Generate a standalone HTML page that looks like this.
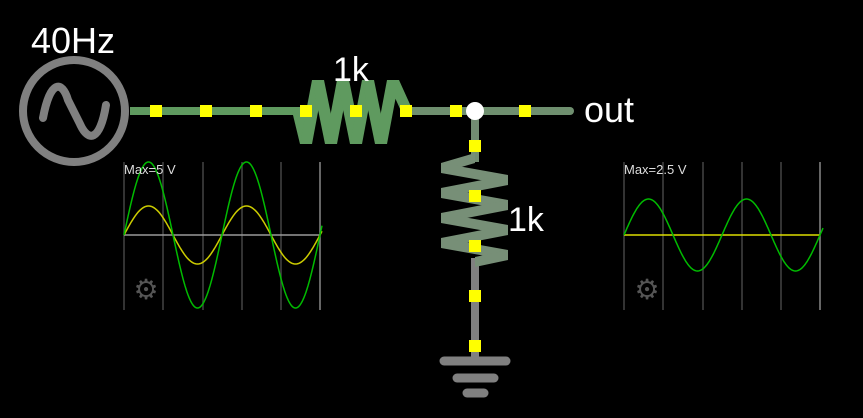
<!DOCTYPE html>
<html><head><meta charset="utf-8"><style>
html,body{margin:0;padding:0;background:#000;}
svg{display:block;font-family:"Liberation Sans",sans-serif;}
</style></head><body>
<svg id="s" width="863" height="418" viewBox="0 0 863 418" xmlns="http://www.w3.org/2000/svg">
<rect width="863" height="418" fill="#000"/>
<g stroke="#444" stroke-width="1.5">
<line x1="124" y1="162" x2="124" y2="310"/><line x1="163" y1="162" x2="163" y2="310"/><line x1="203" y1="162" x2="203" y2="310"/><line x1="242" y1="162" x2="242" y2="310"/><line x1="281" y1="162" x2="281" y2="310"/>
<line x1="624" y1="162" x2="624" y2="310"/><line x1="663" y1="162" x2="663" y2="310"/><line x1="703" y1="162" x2="703" y2="310"/><line x1="742" y1="162" x2="742" y2="310"/><line x1="781" y1="162" x2="781" y2="310"/>
</g>
<line x1="320" y1="162" x2="320" y2="310" stroke="#888" stroke-width="1.5"/>
<line x1="820" y1="162" x2="820" y2="310" stroke="#888" stroke-width="1.5"/>
<line x1="124" y1="235" x2="320" y2="235" stroke="#999" stroke-width="1.5"/>
<polyline id="y1" fill="none" stroke="#cccc00" stroke-width="1.5"/>
<polyline id="g1" fill="none" stroke="#00bb00" stroke-width="1.5"/>
<line x1="624" y1="235" x2="820" y2="235" stroke="#dddd00" stroke-width="1.5"/>
<polyline id="g2" fill="none" stroke="#00bb00" stroke-width="1.5"/>
<text x="124" y="174" font-size="13" fill="#ddd">Max=5 V</text>
<text x="624" y="174" font-size="13" fill="#ddd">Max=2.5 V</text>
<text x="146" y="299" font-size="28" fill="#555" text-anchor="middle">⚙</text>
<text x="647" y="299" font-size="28" fill="#555" text-anchor="middle">⚙</text>
<line x1="130" y1="111" x2="300" y2="111" stroke="#5f9a5f" stroke-width="8"/>
<line x1="405" y1="111" x2="570" y2="111" stroke="#6f8f6f" stroke-width="8" stroke-linecap="round"/>
<g id="rh" fill="#5f9a5f"></g>
<line x1="475" y1="111" x2="475" y2="162" stroke="#728c72" stroke-width="8"/>
<line x1="475" y1="258" x2="475" y2="358" stroke="#808080" stroke-width="8"/>
<g id="rv" fill="#778f77"></g>
<g stroke="#808080" stroke-linecap="round">
<line x1="444" y1="361" x2="506" y2="361" stroke-width="9"/>
<line x1="457" y1="378" x2="494" y2="378" stroke-width="9"/>
<line x1="467" y1="393" x2="484" y2="393" stroke-width="9"/>
</g>
<circle cx="74" cy="111" r="51" fill="none" stroke="#808080" stroke-width="8"/>
<path d="M43,118 C50,80 62,80 68,100 L80,124 C88,142 100,142 106,105" fill="none" stroke="#808080" stroke-width="8" stroke-linecap="round"/>
<circle cx="475" cy="111" r="9" fill="#fff"/>
<g fill="#ffff00">
<rect x="150" y="105" width="12" height="12"/><rect x="200" y="105" width="12" height="12"/><rect x="250" y="105" width="12" height="12"/><rect x="300" y="105" width="12" height="12"/><rect x="350" y="105" width="12" height="12"/><rect x="400" y="105" width="12" height="12"/><rect x="450" y="105" width="12" height="12"/><rect x="519" y="105" width="12" height="12"/>
<rect x="469" y="140" width="12" height="12"/><rect x="469" y="190" width="12" height="12"/><rect x="469" y="240" width="12" height="12"/><rect x="469" y="290" width="12" height="12"/><rect x="469" y="340" width="12" height="12"/>
</g>
<text x="31" y="53" font-size="36" fill="#fff">40Hz</text>
<text x="333" y="81" font-size="34" fill="#fff">1k</text>
<text x="508" y="231" font-size="34" fill="#fff">1k</text>
<text x="584" y="122" font-size="36" fill="#fff">out</text>
</svg>
<script>
var NS="http://www.w3.org/2000/svg";
function pts(x0,x1,cy,a,per){var p=[];for(var x=x0;x<=x1;x+=1){p.push(x+","+(cy-a*Math.sin(2*Math.PI*(x-x0)/per)).toFixed(1));}return p.join(" ");}
document.getElementById("g1").setAttribute("points",pts(124,322,235,73,98));
document.getElementById("y1").setAttribute("points",pts(124,322,235,29,98));
document.getElementById("g2").setAttribute("points",pts(624,823,235,36,98));
function strips(g,P,dx,dy){for(var i=0;i<P.length-1;i++){var a=P[i],b=P[i+1];var pl=document.createElementNS(NS,"polygon");
pl.setAttribute("points",[(a[0]-dx)+","+(a[1]-dy),(a[0]+dx)+","+(a[1]+dy),(b[0]+dx)+","+(b[1]+dy),(b[0]-dx)+","+(b[1]-dy)].join(" "));g.appendChild(pl);}}
strips(document.getElementById("rh"),[[298,111],[306,144],[318,80],[331,144],[343,80],[356,144],[368,80],[381,144],[393,80],[407,111]],6,0);
strips(document.getElementById("rv"),[[475,158],[441,168],[508,180],[441,193],[508,205],[441,218],[508,230],[441,243],[508,255],[475,262]],0,5);
</script>
</body></html>
